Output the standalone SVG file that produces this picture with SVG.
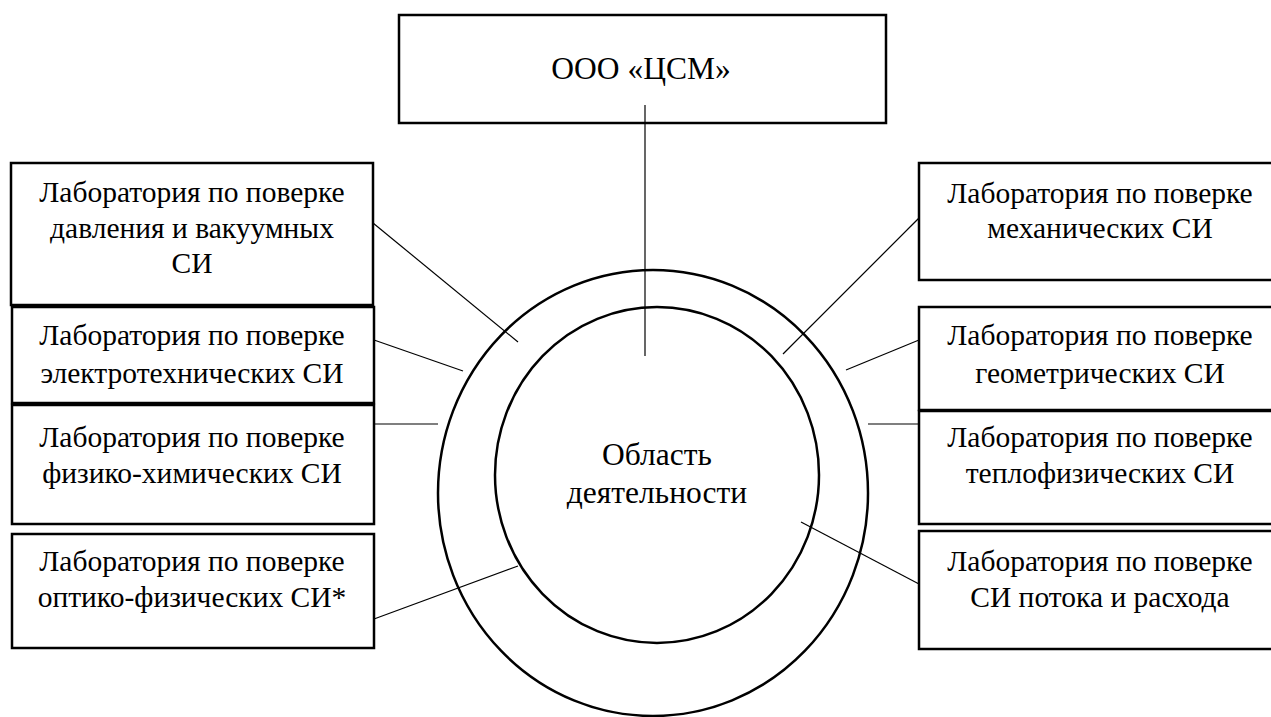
<svg xmlns="http://www.w3.org/2000/svg" width="1271" height="717" viewBox="0 0 1271 717">
<style>
.box{fill:#fff;stroke:#000;stroke-width:2.5}
.ring{fill:none;stroke:#000;stroke-width:2.5}
.ln{stroke:#000;stroke-width:1.2;fill:none}
text{font-family:'Liberation Serif','Times New Roman',serif;font-size:29.5px;fill:#000;text-anchor:middle}
text.big{font-size:31.5px}
</style>
<rect width="1271" height="717" fill="#fff"/>
<g id="circles">
<ellipse class="ring" cx="653" cy="493" rx="215" ry="223"/>
<ellipse class="ring" cx="657" cy="475" rx="162" ry="168"/>
</g>
<g id="top">
<rect class="box" x="399" y="15" width="487" height="108"/>
<text class="big" x="641" y="79">ООО «ЦСМ»</text>
</g>
<g id="center">
<text class="big" x="657" y="465">Область</text>
<text class="big" x="657" y="503">деятельности</text>
</g>
<g id="L1"><rect class="box" x="11" y="163" width="362" height="142"/>
<text x="192" y="202">Лаборатория по поверке</text><text x="192" y="238">давления и вакуумных</text><text x="192" y="273">СИ</text></g>
<g id="L2"><rect class="box" x="12" y="307" width="362" height="96"/>
<text x="192" y="345">Лаборатория по поверке</text><text x="192" y="383">электротехнических СИ</text></g>
<g id="L3"><rect class="box" x="12" y="405" width="362" height="119"/>
<text x="192" y="447">Лаборатория по поверке</text><text x="192" y="483">физико-химических СИ</text></g>
<g id="L4"><rect class="box" x="12" y="534" width="362" height="114"/>
<text x="192" y="571">Лаборатория по поверке</text><text x="192" y="607">оптико-физических СИ*</text></g>
<g id="R1"><rect class="box" x="919" y="163" width="362" height="117"/>
<text x="1100" y="203">Лаборатория по поверке</text><text x="1100" y="238">механических СИ</text></g>
<g id="R2"><rect class="box" x="919" y="307" width="362" height="103"/>
<text x="1100" y="345">Лаборатория по поверке</text><text x="1100" y="383">геометрических СИ</text></g>
<g id="R3"><rect class="box" x="919" y="411" width="362" height="113"/>
<text x="1100" y="447">Лаборатория по поверке</text><text x="1100" y="483">теплофизических СИ</text></g>
<g id="R4"><rect class="box" x="919" y="531" width="362" height="118"/>
<text x="1100" y="571">Лаборатория по поверке</text><text x="1100" y="607">СИ потока и расхода</text></g>
<g id="connectors">
<line class="ln" x1="645" y1="105" x2="645" y2="356"/>
<line class="ln" x1="373" y1="223" x2="518" y2="342"/>
<line class="ln" x1="374" y1="340" x2="463" y2="371"/>
<line class="ln" x1="374" y1="424" x2="438" y2="424"/>
<line class="ln" x1="374" y1="619" x2="518" y2="566"/>
<line class="ln" x1="919" y1="218" x2="783" y2="354"/>
<line class="ln" x1="919" y1="340" x2="846" y2="370"/>
<line class="ln" x1="919" y1="424" x2="868" y2="424"/>
<line class="ln" x1="919" y1="584" x2="801" y2="522"/>
</g>
</svg>
